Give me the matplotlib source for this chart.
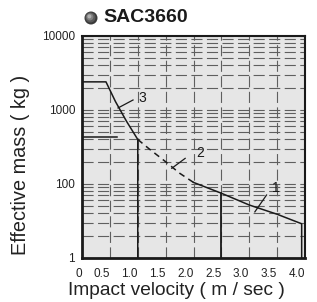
import numpy as np
import matplotlib
matplotlib.use("Agg")
import matplotlib.pyplot as plt
from matplotlib.ticker import LogLocator, NullFormatter, FixedLocator

plt.rcParams['font.family'] = ['Liberation Sans', 'DejaVu Sans']

title = "SAC3660"
x_ticks = [0, 0.5, 1.0, 1.5, 2.0, 2.5, 3.0, 3.5, 4.0]
x_labels = ["0", "0.5", "1.0", "1.5", "2.0", "2.5", "3.0", "3.5", "4.0"]
y_ticks = [10, 100, 1000, 10000]
y_labels = ["1", "100", "1000", "10000"]

# curve 3 (solid) incl. drop at 1.0 m/s
v3 = [0.0, 0.43, 0.6, 0.8, 1.0, 1.0]
m3 = [2400, 2400, 1300, 700, 400, 10]
# curve 2 upper limit
v2_top = [0.0, 0.63]
m2_top = [430, 430]
# curve 2 (dashed part)
v2 = [1.0, 1.2, 1.5, 1.75, 2.0]
m2 = [400, 300, 200, 140, 105]
# curve 2 drop at 2.5 m/s
v2_drop = [2.5, 2.5]
m2_drop = [75, 10]
# curve 1 (solid) incl. drop at end
v1 = [2.0, 2.5, 3.0, 3.5, 3.94, 3.94]
m1 = [105, 75, 52, 39, 29, 10]

# curve labels: text, label pos, leader start, leader end
curve_labels = [
    ("3", (1.01, 1450), (0.646, 1065), (0.915, 1365)),
    ("2", (2.05, 262), (1.61, 163), (1.85, 222)),
    ("1", (3.40, 88), (3.10, 42), (3.31, 71)),
]

fig = plt.figure(figsize=(3.17, 3.02), dpi=100)
ax = fig.add_axes([0.2587, 0.1457, 0.7035, 0.7351])
ax.set_facecolor('#e6e6e6')
ax.set_yscale('log')
ax.set_xlim(0, 4.0)
ax.set_ylim(10, 10000)

ax.yaxis.set_major_locator(FixedLocator(y_ticks))
ax.set_yticklabels(y_labels)
ax.yaxis.set_minor_locator(LogLocator(base=10, subs=np.arange(2, 10)))
ax.yaxis.set_minor_formatter(NullFormatter())
ax.set_xticks(x_ticks)
ax.set_xticklabels(x_labels, ha='right')
ax.tick_params(which='both', length=0, labelsize=8.5, colors='#222222')
ax.tick_params(axis='x', pad=7)
ax.tick_params(axis='y', pad=5)

ax.grid(True, which='both', axis='y', color='#5f5f5f', lw=0.8, ls=(0, (10, 4)))
ax.grid(True, which='major', axis='x', color='#5f5f5f', lw=0.8, ls=(0, (10, 4)))

lc = '#1a1a1a'
ax.plot(v3, m3, color=lc, lw=1.1)
ax.plot(v2_top, m2_top, color=lc, lw=1.1)
ax.plot(v2, m2, color=lc, lw=1.1, ls=(0, (4, 3)))
ax.plot(v2_drop, m2_drop, color=lc, lw=1.3)
ax.plot(v1, m1, color=lc, lw=1.1)

for txt, pos, p0, p1 in curve_labels:
    ax.plot([p0[0], p1[0]], [p0[1], p1[1]], color=lc, lw=0.9)
    ax.text(pos[0], pos[1], txt, fontsize=10, ha='left', va='center', color=lc)

for s in ax.spines.values():
    s.set_color('#1a1a1a')
    s.set_linewidth(1.5)
ax.spines['left'].set_linewidth(2)
ax.spines['bottom'].set_linewidth(2)

ax.set_xlabel("Impact velocity ( m / sec )", fontsize=13.8, color='#222222')
ax.set_ylabel("Effective mass ( kg )", fontsize=14.3, color='#222222')
ax.xaxis.set_label_coords(0.425, -0.11)
ax.yaxis.set_label_coords(-0.235, 0.42)

# title with sphere bullet
for r, c in [(6.5, '#3a3a3a'), (5, '#5a5a5a'), (3.5, '#808080'), (2, '#b0b0b0')]:
    off = (6.5 - r) * 0.35
    fig.patches.append(plt.Circle((91 - off, 302 - 18 + off), r, transform=None,
                                  facecolor=c, edgecolor='none'))
fig.text(103 / 317, 1 - 18 / 302, title, fontsize=14, fontweight='bold',
         ha='left', va='center', color='#1a1a1a')

fig.savefig("out.png", dpi=100)
